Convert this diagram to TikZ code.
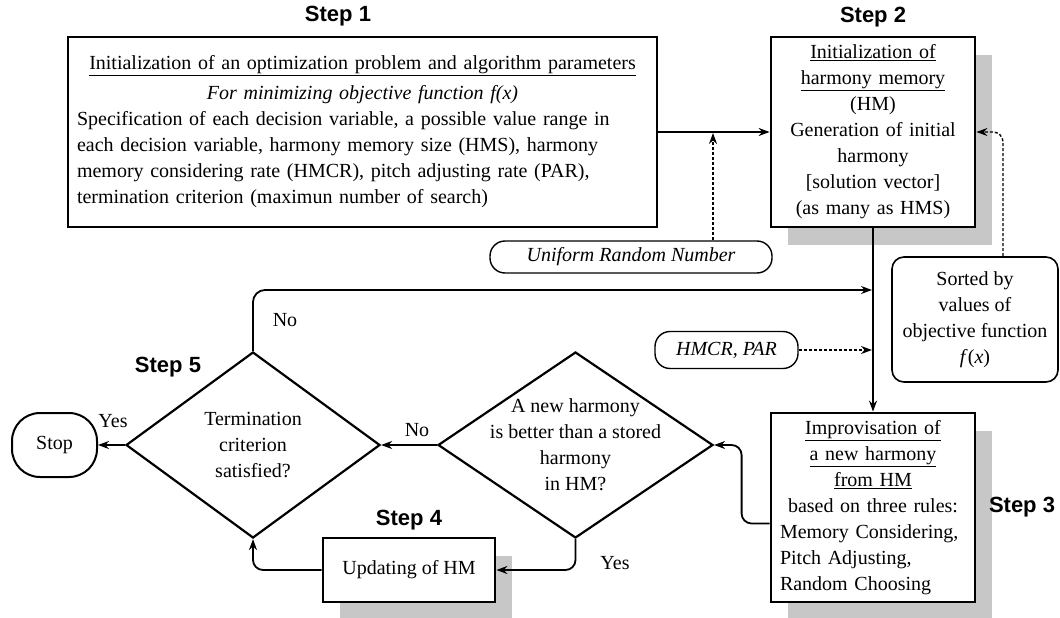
\documentclass[tikz,border=0pt]{standalone}
\usepackage{fontspec}
\setmainfont{Liberation Serif}
\setsansfont{Liberation Sans}
\usetikzlibrary{arrows.meta,shapes.geometric,shadows}

\begin{document}
\begin{tikzpicture}[x=1pt,y=-1pt,
	every node/.style={font=\fontsize{20}{26}\selectfont},
	steplabel/.style={font=\fontsize{22}{24}\selectfont\sffamily\bfseries},
	mainbox/.style={draw, line width=2.8pt, fill=white, inner xsep=9pt, inner ysep=3pt},
	shadowed/.style={drop shadow={shadow xshift=17pt, shadow yshift=-18pt, fill=black!22, opacity=1}},
	pill/.style={draw, line width=1.4pt, rounded corners=15pt, inner sep=0pt, font=\fontsize{20}{26}\selectfont\itshape},
	decision/.style={draw, diamond, line width=2.2pt, inner sep=0pt},
	flow/.style={line width=1.8pt, -{Stealth[length=11pt,width=8pt]}},
	dashflow/.style={line width=1.4pt, dash pattern=on 3pt off 2pt, -{Stealth[length=11pt,width=8pt]}}]
	\useasboundingbox (0,0) rectangle (1060,618);

	% steps
	\node[mainbox, minimum width=589pt, minimum height=190pt, text width=571pt] (init) at (362.5,132)
		{\centering\underline{Initialization of an optimization problem and algorithm parameters}\\[4pt]
		\textit{For minimizing objective function f(x)}\par\raggedright
		Specification of each decision variable, a possible value range in\\
		each decision variable, harmony memory size (HMS), harmony\\
		memory considering rate (HMCR), pitch adjusting rate (PAR),\\
		termination criterion (maximun number of search)};
	\node[mainbox, shadowed, minimum width=204pt, minimum height=190pt, text width=186pt, align=center] (hm) at (873,132)
		{\underline{Initialization of}\\ \underline{harmony memory}\\ (HM)\\ Generation of initial\\ harmony\\ {[solution vector]}\\ (as many as HMS)};
	\node[mainbox, shadowed, minimum width=204pt, minimum height=189pt, text width=186pt] (improv) at (873,507.5)
		{\centering\underline{Improvisation of}\\ \underline{a new harmony}\\ \underline{from HM}\\ based on three rules:\par\raggedright
		Memory Considering,\\ Pitch Adjusting,\\ Random Choosing};
	\node[mainbox, shadowed, minimum width=172pt, minimum height=64pt] (update) at (409,570) {Updating of HM};

	\node[decision, minimum width=275pt, minimum height=186pt] (better) at (575.5,445) {};
	\node[align=center] (betterlbl) at (better.center) {A new harmony\\ is better than a stored\\ harmony\\ in HM?};
	\node[decision, minimum width=254pt, minimum height=186pt] (term) at (253,445) {};
	\node[align=center] (termlbl) at (term.center) {Termination\\ criterion\\ satisfied?};
	\node[draw, line width=2pt, rounded corners=28pt, minimum width=85pt, minimum height=64pt] (stop) at (54.5,445) {Stop};

	% inputs
	\node[pill, minimum width=282pt, minimum height=32pt] (urn) at (631,257) {Uniform Random Number};
	\node[pill, minimum width=143pt, minimum height=37pt] (hmcr) at (726.5,350) {HMCR, PAR};
	\node[draw, line width=1.6pt, rounded corners=12pt, fill=white, minimum width=166pt, minimum height=125pt, align=center] (sorted) at (975,319.5)
		{Sorted by\\ values of\\ objective function\\ \textit{f}(\textit{x})};

	\node[steplabel] (s1) at (338,16) {Step 1};
	\node[steplabel] (s2) at (873,17) {Step 2};
	\node[steplabel] (s3) at (1022,507) {Step 3};
	\node[steplabel] (s4) at (409,520) {Step 4};
	\node[steplabel] (s5) at (168,367) {Step 5};

	\coordinate (urnhit) at (713,133);
	\coordinate (noin) at (872,290);
	\coordinate (hmcrin) at (872,350);
	\coordinate (sortout) at ([xshift=28pt]sorted.north);

	\draw[flow] (init) -- (hm);
	\draw[dashflow] (urn.north -| urnhit) -- (urnhit);
	\draw[flow] (hm) -- (improv);
	\draw[flow, rounded corners=12pt] (term.north) |- (noin);
	\draw[dashflow] (hmcr) -- (hmcrin);
	\draw[dashflow, rounded corners=10pt] (sortout) |- (hm.east);
	\draw[flow, rounded corners=10pt] ([yshift=-16pt]improv.west) -- ++(-28,0) |- (better.east);
	\draw[flow] (better.west) -- (term.east);
	\draw[flow, rounded corners=10pt] (better.south) |- (update.east);
	\draw[flow, rounded corners=10pt] (update.west) -| (term.south);
	\draw[flow] (term.west) -- (stop.east);

	\node (no1) at (285,320) {No};
	\node (no2) at (417,430) {No};
	\node (yes1) at (113,421) {Yes};
	\node (yes2) at (615,563) {Yes};
\end{tikzpicture}
\end{document}
